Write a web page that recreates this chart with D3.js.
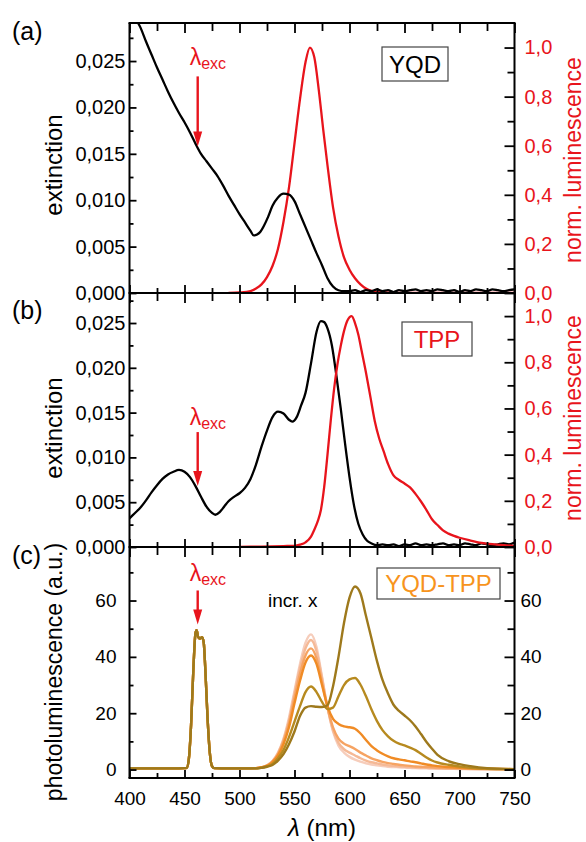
<!doctype html>
<html lang="en">
<head>
<meta charset="UTF-8"/>
<title>YQD / TPP spectra</title>
<script src="https://cdn.jsdelivr.net/npm/d3@7"></script>
<style>
  body { margin: 0; background: #fff; }
  svg text { font-family: "Liberation Sans", Arial, sans-serif; }
</style>
</head>
<body>
<svg id="chart" width="586" height="842"></svg>
<script>
// ---- data ----
// (a) YQD extinction (black) and normalised luminescence (red)
const yqdExtWl = [400,405,410,415,420,425,430,435,440,445,450,455,460,465,470,475,480,485,490,495,500,505,510,
  513,516,519,522,526,530,535,540,545,550,555,560,565,570,575,580,585,590,595,
  600,605,610,615,620,625,630,635,640,645,650,655,660,665,670,675,680,685,690,695,700,705,710,715,720,725,730,735,740,745,750];
const yqdExt = [0.0312,0.0297,0.0286,0.0271,0.0257,0.0243,0.0230,0.0217,0.0205,0.0194,0.0184,0.0173,0.0161,0.0150,0.0142,0.0134,0.0126,0.0116,0.0105,0.0095,0.0085,0.0076,0.0067,
  0.0062,0.0063,0.0066,0.0072,0.0082,0.0094,0.0103,0.0107,0.0106,0.0099,0.0085,0.0071,0.0057,0.0043,0.0030,0.0016,0.0007,0.0003,0.0002,
  0.0002,0.0003,0.0001,0.0003,0.0002,0.0004,0.0002,0.0003,0.0001,0.0003,0.0002,0.0003,0.0004,0.0002,0.0003,0.0002,0.0004,0.0003,0.0002,0.0003,0.0001,0.0003,0.0002,0.0004,0.0003,0.0002,0.0004,0.0003,0.0002,0.0003,0.0004];
const yqdLumWl = [490,500,510,515,520,525,530,535,540,545,550,555,560,564,568,572,576,580,585,590,595,600,605,610,615,620,630,640,660,680,700,720,750];
const yqdLum = [0,0.002,0.008,0.018,0.035,0.065,0.11,0.18,0.29,0.43,0.61,0.79,0.94,1.0,0.96,0.83,0.67,0.52,0.35,0.23,0.145,0.095,0.06,0.035,0.018,0.009,0.003,0,0,0,0,0,0];

// (b) TPP extinction (black) and normalised luminescence (red)
const tppExtWl = [400,405,410,415,420,425,430,435,440,445,450,455,460,465,470,475,478,482,486,
  490,495,500,505,510,515,520,525,530,535,540,545,548,552,556,560,565,570,
  574,577,580,584,588,592,596,600,604,608,612,616,620,625,
  630,635,640,645,650,655,660,665,670,675,680,685,690,695,700,705,710,715,720,725,730,735,740,745,750];
const tppExt = [0.0032,0.0038,0.0044,0.0052,0.0061,0.0069,0.0076,0.0081,0.0084,0.0086,0.0084,0.0078,0.0068,0.0056,0.0045,0.0038,0.0036,0.0039,0.0045,
  0.0051,0.0056,0.0060,0.0066,0.0076,0.0092,0.0112,0.0130,0.0145,0.0151,0.0149,0.0142,0.0140,0.0145,0.0158,0.0172,0.0205,0.0240,
  0.0252,0.0251,0.0244,0.0225,0.0192,0.0155,0.0115,0.0078,0.0047,0.0026,0.0014,0.0007,0.0004,0.0002,
  0.0003,0.0002,0.0003,0.0001,0.0003,0.0002,0.0004,0.0002,0.0003,0.0002,0.0003,0.0004,0.0002,0.0003,0.0002,0.0004,0.0003,0.0002,0.0004,0.0003,0.0002,0.0003,0.0004,0.0003,0.0005];
const tppLumWl = [500,520,540,550,555,560,565,568,571,574,577,580,583,586,589,592,595,598,602,605,608,611,615,619,623,627,631,635,640,645,650,655,660,665,670,675,680,685,690,695,700,710,720,730,740,750];
const tppLum = [0,0.002,0.004,0.005,0.01,0.02,0.045,0.075,0.11,0.16,0.26,0.40,0.55,0.685,0.79,0.87,0.935,0.98,1.0,0.97,0.92,0.85,0.755,0.65,0.545,0.47,0.415,0.36,0.31,0.29,0.275,0.258,0.23,0.197,0.16,0.12,0.095,0.072,0.058,0.048,0.04,0.028,0.018,0.012,0.008,0.005];

// (c) YQD-TPP photoluminescence, light to dark = increasing x
const excWl = [400,420,440,450,452,454,456,458,460,461,462.5,464,466,467.5,469,471,473,475,477,490,505];
const excPl = [0.4,0.4,0.4,0.5,0.6,4,16,35,48.5,49.5,47,46.5,47,45,35,18,6,1.2,0.5,0.4,0.4];
const emWl = [515,520,525,530,535,540,545,550,555,560,565,570,575,580,585,590,595,600,605,610,615,620,625,630,635,640,645,650,655,660,665,670,675,680,690,700,710,725,750];
const pl1 = [0.5,0.8,1.5,3,6,11,18.5,28,37.5,45,48,43.5,33,22,13.5,8.5,6,4.5,3.5,2.8,2.2,1.8,1.5,1.2,1.0,0.9,0.8,0.7,0.6,0.5,0.45,0.4,0.35,0.3,0.25,0.2,0.15,0.1,0.1];
const pl2 = [0.5,0.8,1.5,3,5.8,10.5,17.5,27,36,43,46,42,32.5,22,14,9.5,7.2,6,5,4,3.2,2.6,2.2,1.8,1.5,1.3,1.1,1.0,0.85,0.75,0.65,0.6,0.5,0.45,0.35,0.3,0.2,0.15,0.1];
const pl3 = [0.5,0.8,1.4,2.8,5.5,10,16.5,25.5,34,40.5,43,39.5,31,22,15,11,9.2,8.3,7.3,6,5,4,3.3,2.7,2.3,2,1.7,1.5,1.3,1.1,1,0.9,0.8,0.7,0.5,0.4,0.3,0.2,0.15];
const pl4 = [0.5,0.8,1.3,2.6,5,9,15,23.5,31.5,38,40.5,37.5,30,22.5,18,16.2,15.3,15,14.5,12.8,10.5,8.3,6.8,5.6,4.7,4,3.6,3.3,2.9,2.6,2.2,1.8,1.5,1.2,0.9,0.6,0.45,0.3,0.15];
const pl5 = [0.4,0.7,1.1,2,4,7,11.5,17,22.5,27.5,29.5,27.5,24,21.5,22,26,30,32,32.5,30.1,26,21.3,17.2,14,11.8,10.2,9.2,8.6,7.8,6.9,5.6,4.3,3.2,2.5,1.7,1.1,0.6,0.3,0.15];
const pl6 = [0.4,0.6,1,1.6,3.2,5.5,9,13.5,19,22,22.5,22.3,22.2,22.8,29.5,40,52,61,65,62.5,54.5,46.5,38.5,31.8,27,23,20.8,19.2,17.5,15.3,12.6,9.8,7.4,5.2,3,1.9,1.2,0.5,0.1];
const plColors = ["#f6cdbb","#f5b996","#f6a362","#f08b25","#b78a1f","#9e791c"];

// tick values
const xMajor = [400,450,500,550,600,650,700,750];
const xMinor = [425,475,525,575,625,675,725];
const extMajor = [0,0.005,0.010,0.015,0.020,0.025];
const extMinor = [0.0025,0.0075,0.0125,0.0175,0.0225,0.0275];
const lumMajor = [0,0.2,0.4,0.6,0.8,1.0];
const lumMinor = [0.1,0.3,0.5,0.7,0.9];
const plMajor = [0,20,40,60];
const plMinor = [10,30,50,70];

// ---- layout ----
const RED = "#e8141c", ORANGE = "#f7941d";
const xL = 129.5, xR = 514.5;
const pa = [23, 293], pb = [293, 547], pc = [547, 778];

const svg = d3.select("#chart");

const x = d3.scaleLinear().domain([400, 750]).range([xL, xR]);
const yA = d3.scaleLinear().domain([0, 0.0291]).range([pa[1], pa[0]]);
const yAr = d3.scaleLinear().domain([0, 1.1]).range([pa[1], pa[0]]);
const yB = d3.scaleLinear().domain([0, 0.02835]).range([pb[1], pb[0]]);
const yBr = d3.scaleLinear().domain([0, 1.1]).range([pb[1], pb[0]]);
const yC = d3.scaleLinear().domain([-3, 79]).range([pc[1], pc[0]]);

const comma = n => d => d3.format("." + n + "f")(d).replace(".", ",");

// clip paths
const defs = svg.append("defs");
[["clipA", pa], ["clipB", pb], ["clipC", pc]].forEach(([id, p]) => {
  defs.append("clipPath").attr("id", id)
    .append("rect").attr("x", xL).attr("y", p[0]).attr("width", xR - xL).attr("height", p[1] - p[0]);
});

function zip(wl, v) { return wl.map((w, i) => [w, v[i]]); }

function curve(clip, yScale, data, color, width) {
  const line = d3.line().x(d => x(d[0])).y(d => yScale(d[1])).curve(d3.curveMonotoneX);
  svg.append("path").attr("clip-path", "url(#" + clip + ")")
    .datum(data).attr("d", line)
    .attr("fill", "none").attr("stroke", color).attr("stroke-width", width)
    .attr("stroke-linejoin", "round");
}

// curves
curve("clipA", yAr, zip(yqdLumWl, yqdLum), RED, 2.3);
curve("clipA", yA, zip(yqdExtWl, yqdExt), "#000", 2.3);
curve("clipB", yB, zip(tppExtWl, tppExt), "#000", 2.3);
curve("clipB", yBr, zip(tppLumWl, tppLum), RED, 2.3);
[pl1, pl2, pl3, pl4, pl5, pl6].forEach((s, i) => {
  curve("clipC", yC, zip(excWl, excPl).concat(zip(emWl, s)), plColors[i], 2.4);
});

// axes
function axis(fn, scale, tx, ty, major, minor, len, minLen, pad, fmt, color, fsize) {
  const g = svg.append("g").attr("transform", `translate(${tx},${ty})`);
  g.call(fn(scale).tickValues(minor).tickSize(-minLen).tickFormat(""));
  const gm = svg.append("g").attr("transform", `translate(${tx},${ty})`);
  gm.call(fn(scale).tickValues(major).tickSize(-len).tickPadding(pad).tickFormat(fmt || ""));
  [g, gm].forEach(s => {
    s.select(".domain").remove();
    s.selectAll("line").attr("stroke", "#000").attr("stroke-width", 1.8);
  });
  gm.selectAll("text").attr("font-size", fsize || 20).attr("fill", color || "#000")
    .style("font-family", "'Liberation Sans', Arial, sans-serif");
}

// left / right y axes
axis(d3.axisLeft, yA, xL, 0, extMajor, extMinor, 7, 4, 4, comma(3), "#000", 20);
axis(d3.axisLeft, yB, xL, 0, extMajor, extMinor, 7, 4, 4, comma(3), "#000", 20);
axis(d3.axisLeft, yC, xL, 0, plMajor, plMinor, 7, 4, 13, d3.format("d"), "#000", 19);
axis(d3.axisRight, yAr, xR, 0, lumMajor, lumMinor, 10, 7, 10, comma(1), RED, 20);
axis(d3.axisRight, yBr, xR, 0, lumMajor, lumMinor, 10, 7, 10, comma(1), RED, 20);
axis(d3.axisRight, yC, xR, 0, plMajor, plMinor, 10, 7, 6, d3.format("d"), "#000", 19);

// top and bottom x ticks of every panel
[pa, pb, pc].forEach((p, i) => {
  axis(d3.axisTop, x, 0, p[0], xMajor, xMinor, 10, 8, 0, null);
  axis(d3.axisBottom, x, 0, p[1], xMajor, xMinor, 8, 5, 14, i === 2 ? d3.format("d") : null, "#000", 19);
});

// frame
const frame = svg.append("g").attr("stroke", "#000").attr("stroke-width", 2);
frame.append("line").attr("x1", xL).attr("x2", xL).attr("y1", pa[0]).attr("y2", pc[1]);
frame.append("line").attr("x1", xR).attr("x2", xR).attr("y1", pa[0]).attr("y2", pc[1]);
[pa[0], pa[1], pb[1], pc[1]].forEach(yy => {
  frame.append("line").attr("x1", xL - 1).attr("x2", xR + 1).attr("y1", yy).attr("y2", yy);
});

// text helpers
function txt(xx, yy, s, size, color, anchor) {
  return svg.append("text").attr("x", xx).attr("y", yy).text(s)
    .attr("font-size", size).attr("fill", color || "#000").attr("text-anchor", anchor || "start");
}
function vtxt(xx, yy, s, size, color) {
  return svg.append("text").attr("transform", `translate(${xx},${yy}) rotate(-90)`)
    .attr("text-anchor", "middle").attr("font-size", size).attr("fill", color || "#000").text(s);
}

// panel letters
txt(12, 40, "(a)", 25);
txt(12, 319, "(b)", 25);
txt(12, 564, "(c)", 25);

// axis titles
vtxt(62, 165, "extinction", 24);
vtxt(62, 428, "extinction", 24);
vtxt(62, 672, "photoluminescence (a.u.)", 23);
vtxt(581, 160, "norm. luminescence", 23, RED);
vtxt(581, 418, "norm. luminescence", 23, RED);

const xt = svg.append("text").attr("x", (xL + xR) / 2).attr("y", 836)
  .attr("text-anchor", "middle").attr("font-size", 24);
xt.append("tspan").attr("font-style", "italic").text("λ");
xt.append("tspan").text(" (nm)");

// sample boxes
function box(x0, y0, w, h, s, color) {
  svg.append("rect").attr("x", x0).attr("y", y0).attr("width", w).attr("height", h)
    .attr("fill", "#fff").attr("stroke", "#444").attr("stroke-width", 1.2);
  txt(x0 + w / 2, y0 + h / 2 + 8.5, s, 24, color, "middle");
}
box(382, 47, 66, 34, "YQD", "#000");
box(402, 322, 70, 34, "TPP", RED);
box(377, 568, 123, 31, "YQD-TPP", ORANGE);

// excitation arrows
const excNm = 462;
function excMark(yTip, len, lamBase) {
  const xa = x(excNm);
  const t = svg.append("text").attr("x", xa - 8).attr("y", lamBase).attr("fill", RED);
  t.append("tspan").attr("font-size", 23).text("λ");
  t.append("tspan").attr("font-size", 16).attr("dy", 4).text("exc");
  svg.append("line").attr("x1", xa).attr("x2", xa).attr("y1", yTip - len).attr("y2", yTip - 12)
    .attr("stroke", RED).attr("stroke-width", 2.4);
  svg.append("path").attr("d", `M${xa - 4.5},${yTip - 15} L${xa + 4.5},${yTip - 15} L${xa},${yTip} Z`)
    .attr("fill", RED);
}
excMark(yA(0.0158), 70, 65);
excMark(yB(0.0068), 54, 425);
excMark(yC(51.5), 34, 581);

txt(268, 607, "incr. x", 19);
</script>
</body>
</html>
